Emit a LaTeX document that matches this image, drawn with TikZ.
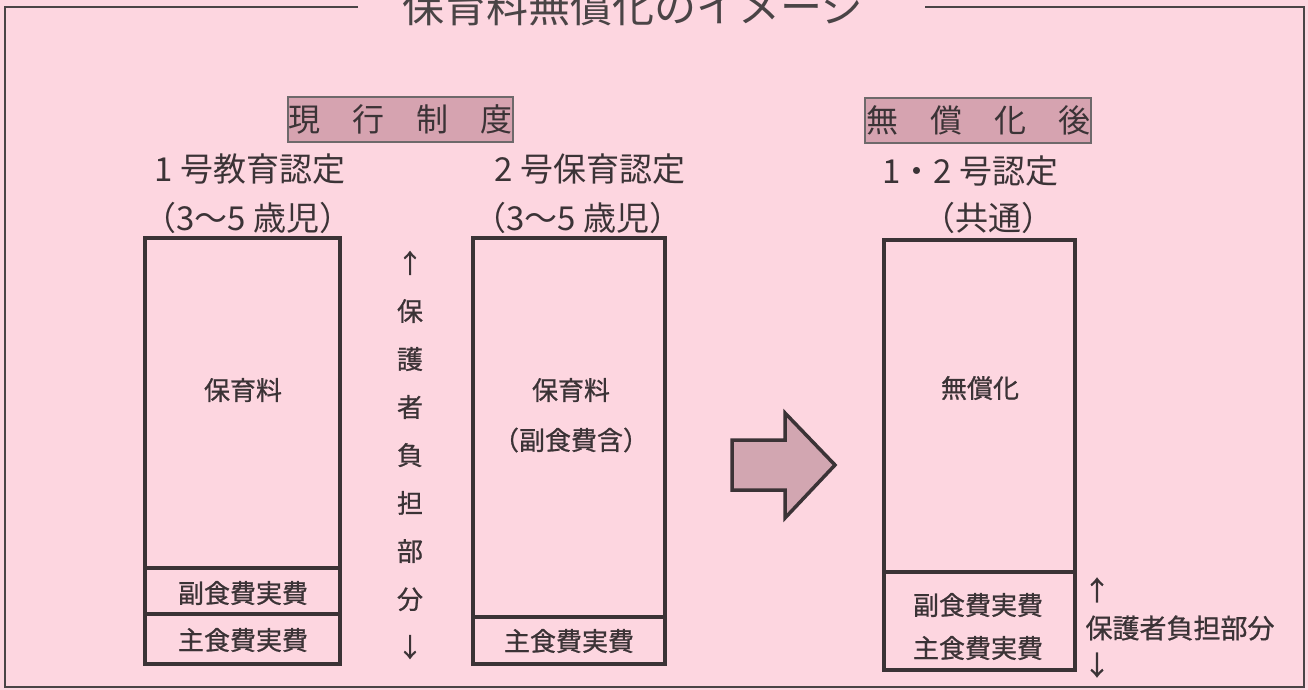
\documentclass[tikz,border=0pt]{standalone}
\usepackage{fontspec}
\newfontfamily\jp{Noto Sans CJK JP}
\newfontfamily\jpb[FakeBold=0.8]{Noto Sans CJK JP}
\definecolor{bgpink}{HTML}{FDD6E0}
\definecolor{tagpink}{HTML}{D6A3B0}
\definecolor{arrowpink}{HTML}{D2A6B1}
\definecolor{ink}{HTML}{3B3336}
\definecolor{framecol}{HTML}{4A4446}
\tikzset{
  cell/.style={draw=ink, line width=3.5pt, inner sep=0pt},
  tag/.style={draw=framecol!80, line width=1.5pt, fill=tagpink, inner sep=0pt,
    minimum height=45pt, text=ink, font=\jp\fontsize{32}{32}\selectfont},
  head/.style={text=ink, font=\jp\fontsize{33}{33}\selectfont, inner sep=0pt},
  txt/.style={text=ink, font=\jpb\fontsize{26}{26}\selectfont, inner sep=0pt},
  note/.style={text=ink, font=\jpb\fontsize{27}{27}\selectfont, inner sep=0pt},
}
\begin{document}
\begin{tikzpicture}[x=1pt,y=-1pt]
\fill[bgpink] (0,0) rectangle (1308,690);
\useasboundingbox (0,0) rectangle (1308,690);

% outer frame and title
\node[text=framecol, font=\jp\fontsize{42}{42}\selectfont, inner sep=0pt] (title) at (633,7) {保育料無償化のイメージ};
\coordinate (tl) at (5,7);
\coordinate (tr) at (1304,7);
\coordinate (bl) at (5,687);
\coordinate (br) at (1304,687);
\coordinate (tlend) at (358,7);
\coordinate (trstart) at (925,7);
\draw[framecol, line width=2.2pt] (tlend) -- (tl) -- (bl) -- (br) -- (tr) -- (trstart);

% tags
\node[tag, minimum width=225pt] (cur) at (400.5,119.5) {現\hspace{32pt}行\hspace{32pt}制\hspace{32pt}度};
\node[tag, minimum width=226pt] (aft) at (978,120.5) {無\hspace{32pt}償\hspace{32pt}化\hspace{32pt}後};

% headers
\node[head] (h1) at (250,169) {1 号教育認定};
\node[head] (h1b) at (248,218) {（3～5 歳児）};
\node[head] (h2) at (590,169) {2 号保育認定};
\node[head] (h2b) at (578,218) {（3～5 歳児）};
\node[head] (h3) at (970,171) {1・2 号認定};
\node[head] (h3b) at (988,218) {（共通）};

% box 1
\node[cell, minimum width=195pt, minimum height=330pt] (b1a) at (242.5,403) {};
\node[cell, minimum width=195pt, minimum height=46pt] (b1b) at (242.5,591) {};
\node[cell, minimum width=195pt, minimum height=50pt] (b1c) at (242.5,639) {};
\node[txt] (t1a) at (243,390) {保育料};
\node[txt] (t1b) at (243,593) {副食費実費};
\node[txt] (t1c) at (243,640) {主食費実費};

% box 2
\node[cell, minimum width=192pt, minimum height=379pt] (b2a) at (569,427.5) {};
\node[cell, minimum width=192pt, minimum height=47pt] (b2b) at (569,640.5) {};
\node[txt] (t2a) at (571,390) {保育料};
\node[txt] (t2a2) at (571,440) {（副食費含）};
\node[txt] (t2b) at (569,641) {主食費実費};

% box 3
\node[cell, minimum width=191pt, minimum height=332pt] (b3a) at (979.5,406) {};
\node[cell, minimum width=191pt, minimum height=98pt] (b3b) at (979.5,621) {};
\node[txt] (t3a) at (980,388) {無償化};
\node[txt] (t3b) at (978,605) {副食費実費};
\node[txt] (t3c) at (978,648) {主食費実費};

% vertical note
\node[note, align=center, font=\jpb\fontsize{26}{48}\selectfont] (vnote) at (410,455)
  {↑\\保\\護\\者\\負\\担\\部\\分\\↓};

% right note
\node[note] (rup) at (1097,590) {↑};
\node[note] (rnote) at (1180,628) {保護者負担部分};
\node[note] (rdown) at (1097,665) {↓};

% big arrow
\draw[draw=ink, line width=3.5pt, fill=arrowpink, line join=miter]
  (732,440) -- (785,440) -- (785,413) -- (835,465) -- (785,518) -- (785,490) -- (732,490) -- cycle;
\end{tikzpicture}
\end{document}
